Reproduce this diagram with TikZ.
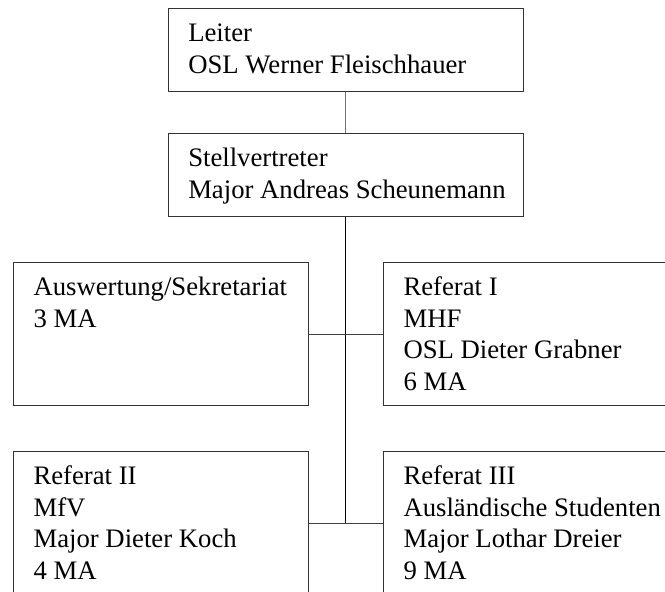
\documentclass[tikz,border=0pt]{standalone}
\usepackage{fontspec}
\setmainfont{Liberation Serif}
\usepackage{tikz}

\tikzset{
  box/.style={draw=black!80, line width=0.9pt, minimum width=295, minimum height=143, inner sep=0pt},
  txt/.style={font=\fontsize{26.7}{31.8}\selectfont, align=left, inner sep=0pt, anchor=north west},
  link/.style={draw=black!75, line width=0.9pt},
}

\begin{document}
\begin{tikzpicture}[x=1pt,y=-1pt]
\useasboundingbox (0,0) rectangle (665,592);
% Leitung
\node[box, minimum width=355, minimum height=83.4] (leiter) at (345.5,50) {};
\node[txt] (leitertxt) at ([shift={(20.5,11.5)}]leiter.north west) {\strut Leiter\\OSL Werner Fleischhauer};
\node[box, minimum width=355, minimum height=83.4] (stellv) at (345.5,175) {};
\node[txt] (stellvtxt) at ([shift={(20.5,11.5)}]stellv.north west) {\strut Stellvertreter\\Major Andreas Scheunemann};
% Referate
\node[box] (ausw) at (161,334) {};
\node[txt] (auswtxt) at ([shift={(20.3,10.8)}]ausw.north west) {\strut Auswertung/Sekretariat\\3 MA};
\node[box] (refi) at (531,334) {};
\node[txt] (refitxt) at ([shift={(20.3,10.8)}]refi.north west) {\strut Referat I\\MHF\\OSL Dieter Grabner\\6 MA};
\node[box] (refii) at (161,523) {};
\node[txt] (refiitxt) at ([shift={(20.3,10.8)}]refii.north west) {\strut Referat II\\MfV\\Major Dieter Koch\\4 MA};
\node[box] (refiii) at (531,523) {};
\node[txt] (refiiitxt) at ([shift={(20.3,10.8)}]refiii.north west) {\strut Referat III\\Ausländische Studenten\\Major Lothar Dreier\\9 MA};
% Verbindungen
\coordinate (oben) at (stellv.south |- ausw.east);
\coordinate (unten) at (stellv.south |- refii.east);
\draw[link, draw=black!55] (leiter) -- (stellv);
\draw[link, line width=1.4pt, draw=black] (stellv.south) -- (unten);
\draw[link] (ausw.east) -- (refi.west);
\draw[link] (refii.east) -- (refiii.west);
\end{tikzpicture}
\end{document}
